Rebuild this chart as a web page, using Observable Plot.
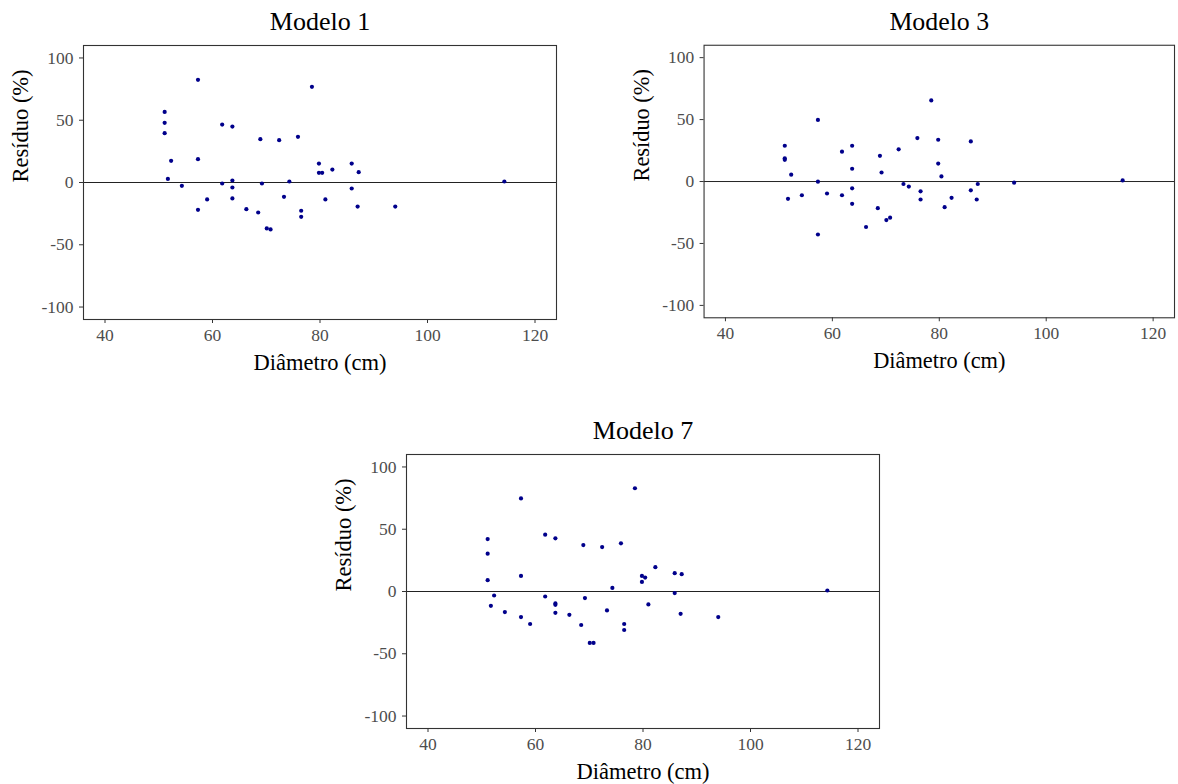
<!DOCTYPE html>
<html>
<head>
<meta charset="utf-8">
<script src="https://cdn.jsdelivr.net/npm/d3@7"></script>
<script src="https://cdn.jsdelivr.net/npm/@observablehq/plot@0.6"></script>
<style>
  html, body { margin: 0; padding: 0; background: #fff; overflow: hidden; }
  #wrap { position: relative; width: 1178px; height: 784px; }
  .panel { position: absolute; }
</style>
</head>
<body>
<div id="wrap"></div>
<script>
// Diameter (cm) shared by all models
const diametro = [51.1, 51.1, 51.1, 51.7, 52.3, 54.3, 57.3, 57.3, 57.3, 59.0, 61.8, 61.8, 63.7, 63.7, 63.7, 63.7, 66.3, 68.5, 68.9, 69.2, 70.1, 70.8, 72.4, 73.3, 74.3, 75.9, 76.5, 76.5, 78.5, 79.8, 79.8, 80.4, 81.0, 82.3, 85.9, 85.9, 87.0, 87.2, 94.0, 114.3];
// Residuals (%)
const modelo1 = [56.7, 47.9, 39.6, 2.9, 17.4, -2.7, 82.4, 18.7, -21.9, -13.6, 46.5, -0.8, 44.9, 1.6, -4.0, -12.8, -21.4, -24.1, 34.8, -0.8, -36.9, -37.7, 34.0, -11.5, 0.8, 36.7, -22.7, -27.6, 76.8, 15.2, 7.8, 7.8, -13.6, 10.4, 15.2, -4.8, -19.3, 8.3, -19.3, 0.8];
const modelo3 = [28.9, 18.8, 17.5, -14.0, 5.5, -11.1, 49.7, -0.1, -42.8, -9.7, 24.1, -11.1, 28.9, 10.3, -5.5, -18.0, -36.7, -21.5, 20.7, 7.3, -31.1, -29.2, 26.0, -2.0, -4.1, 35.1, -7.9, -14.5, 65.5, 33.7, 14.5, 4.1, -20.7, -13.2, 32.4, -7.1, -14.5, -2.0, -0.9, 0.9];
const modelo7 = [42.1, 30.4, 9.1, -11.5, -3.2, -16.5, 74.7, 12.5, -20.5, -26.1, 45.6, -4.0, 42.7, -9.6, -10.7, -17.1, -18.7, -26.9, 37.3, -5.3, -41.3, -41.3, 35.7, -15.2, 2.9, 38.7, -26.1, -30.9, 82.9, 12.5, 7.7, 11.2, -10.4, 19.5, 14.7, -1.3, -17.9, 13.9, -20.5, 0.8];

const titulos = ["Modelo 1", "Modelo 3", "Modelo 7"];
const xTicks = [40, 60, 80, 100, 120];
const yTicks = [-100, -50, 0, 50, 100];
const xLabel = "Diâmetro (cm)";
const yLabel = "Resíduo (%)";

const panels = [
  {title: titulos[0], res: modelo1, left: 0, top: 0},
  {title: titulos[1], res: modelo3, left: 621, top: 0},
  {title: titulos[2], res: modelo7, left: 323, top: 409}
];

const font = "'Liberation Serif', 'Times New Roman', serif";
const wrap = document.getElementById("wrap");
const fmt = d => String(d);

for (const p of panels) {
  const data = diametro.map((d, i) => ({x: d, y: p.res[i]}));
  const chart = Plot.plot({
    width: 560,
    height: 380,
    marginLeft: 83,
    marginRight: 4,
    marginTop: 45,
    marginBottom: 61,
    style: {fontFamily: font, background: "white", overflow: "visible"},
    x: {domain: [36, 124], label: null},
    y: {domain: [-110, 110], label: null},
    marks: [
      Plot.ruleY([0], {stroke: "#222", strokeWidth: 1}),
      Plot.dot(data, {x: "x", y: "y", r: 2.1, fill: "#00008B", stroke: "none"}),
      Plot.frame({stroke: "#333", strokeWidth: 1.1}),
      Plot.axisX({ticks: xTicks, tickFormat: fmt, tickSize: 4, tickPadding: 5, fontSize: 17.5, stroke: "#333", fill: "#4d4d4d", label: null}),
      Plot.axisY({ticks: yTicks, tickFormat: fmt, tickSize: 4, tickPadding: 6, fontSize: 17.5, stroke: "#333", fill: "#4d4d4d", label: null}),
      Plot.text([p.title], {frameAnchor: "top", dy: -24, fontSize: 26, fill: "black", lineAnchor: "middle"}),
      Plot.text([xLabel], {frameAnchor: "bottom", dy: 43, fontSize: 22.5, fill: "black", lineAnchor: "middle"}),
      Plot.text([yLabel], {frameAnchor: "left", dx: -63, rotate: -90, fontSize: 22.5, fill: "black", lineAnchor: "middle"})
    ]
  });
  const div = document.createElement("div");
  div.className = "panel";
  div.style.left = p.left + "px";
  div.style.top = p.top + "px";
  div.appendChild(chart);
  wrap.appendChild(div);
}
</script>
</body>
</html>
